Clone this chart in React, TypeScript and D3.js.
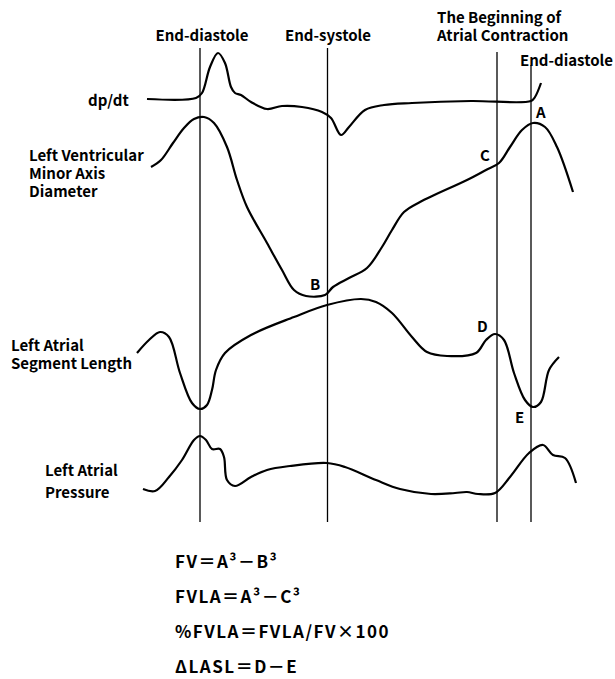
import React from "react";
import * as d3 from "d3";

// time in ms, value in arbitrary trace units (height above trace baseline)
const dpdt: [number, number][] = [
  [14, 36], [112, 37], [124, 42], [140, 68], [156, 82], [170, 72], [182, 48],
  [190, 42], [202, 40], [222, 33], [254, 26], [284, 29], [324, 28], [364, 23],
  [382, 17], [402, 0], [418, 8], [450, 25], [488, 30], [544, 32], [662, 34],
  [782, 34], [790, 38], [802, 52],
];

const lvDiameter: [number, number][] = [
  [22, 133], [42, 140], [66, 157], [88, 172], [108, 181], [128, 183], [148, 177],
  [174, 153], [194, 120], [214, 93], [254, 57], [284, 30], [308, 10], [332, 4],
  [370, 5], [386, 13], [418, 22], [454, 32], [484, 53], [504, 70], [528, 88],
  [560, 98], [654, 120], [692, 130], [718, 137], [740, 153], [764, 170],
  [786, 177], [810, 173], [834, 153], [866, 108],
];

const laSegment: [number, number][] = [
  [-6, 57], [18, 70], [40, 78], [58, 73], [80, 37], [104, 7], [120, 1], [134, 5],
  [144, 20], [152, 40], [170, 57], [222, 75], [308, 93], [374, 105], [442, 111],
  [472, 108], [504, 97], [544, 73], [574, 58], [614, 54], [672, 57], [692, 70],
  [710, 76], [728, 70], [748, 37], [770, 10], [786, 3], [802, 8], [818, 40],
  [838, 53],
];

const laPressure: [number, number][] = [
  [6, 6], [30, 4], [58, 18], [84, 35], [108, 55], [120, 59], [132, 55], [144, 46],
  [160, 46], [168, 38], [174, 15], [190, 9], [222, 18], [254, 25], [300, 29],
  [374, 32], [410, 28], [472, 15], [520, 6], [582, 1], [630, 2], [654, 3],
  [676, 1], [710, 2], [740, 18], [778, 42], [806, 50], [826, 40], [850, 37],
  [872, 12],
];

// event markers (ms)
const markerTimes = [120, 375, 714, 782];
const markerTops = [48, 48, 52, 65];

const formulas = ["FV＝A³－B³", "FVLA＝A³－C³", "%FVLA＝FVLA/FV×100", "ΔLASL＝D－E"];

const FONT = "'Noto Sans CJK JP', 'Noto Sans', sans-serif";

const App = () => {
  const svgRef = React.useRef<SVGSVGElement | null>(null);
  const width = 615;
  const height = 679;

  React.useEffect(() => {
    document.body.style.margin = "0";
    const svg = d3.select(svgRef.current);
    svg.selectAll("*").remove();

    const xScale = d3.scaleLinear().domain([-20, 880]).range([130, 580]);

    // each trace has its own baseline
    const traces = [
      { data: dpdt, base: 135 },
      { data: lvDiameter, base: 300 },
      { data: laSegment, base: 410 },
      { data: laPressure, base: 495 },
    ];

    // vertical event lines
    svg
      .append("g")
      .selectAll("line")
      .data(markerTimes)
      .join("line")
      .attr("x1", (d) => xScale(d))
      .attr("x2", (d) => xScale(d))
      .attr("y1", (d, i) => markerTops[i])
      .attr("y2", 522)
      .attr("stroke", "#000")
      .attr("stroke-width", 1.3);

    traces.forEach((t) => {
      const yScale = d3.scaleLinear().domain([0, 100]).range([t.base, t.base - 100]);
      const line = d3
        .line<[number, number]>()
        .x((d) => xScale(d[0]))
        .y((d) => yScale(d[1]))
        .curve(d3.curveCatmullRom.alpha(0.5));
      svg
        .append("path")
        .datum(t.data)
        .attr("fill", "none")
        .attr("stroke", "#000")
        .attr("stroke-width", 2.2)
        .attr("stroke-linejoin", "round")
        .attr("d", line);
    });

    const txt = (x: number, y: number, s: string, size = 15, anchor = "start", ls = 0) =>
      svg
        .append("text")
        .attr("x", x)
        .attr("y", y)
        .attr("text-anchor", anchor)
        .attr("font-family", FONT)
        .attr("font-size", size)
        .attr("font-weight", 700)
        .attr("letter-spacing", ls)
        .text(s);

    // top labels
    txt(202, 41, "End-diastole", 15, "middle");
    txt(328, 41, "End-systole", 15, "middle");
    txt(437, 23, "The Beginning of");
    txt(437, 41, "Atrial Contraction");
    txt(613, 66, "End-diastole", 15, "end");

    // trace labels
    txt(88, 106, "dp/dt");
    txt(29, 161, "Left Ventricular");
    txt(29, 179, "Minor Axis");
    txt(29, 197, "Diameter");
    txt(11, 351, "Left Atrial");
    txt(11, 369, "Segment Length");
    txt(45, 476, "Left Atrial");
    txt(45, 498, "Pressure");

    // point letters
    txt(536, 118, "A");
    txt(480, 161, "C");
    txt(310, 290, "B");
    txt(477, 332, "D");
    txt(515, 423, "E");

    formulas.forEach((f, i) => {
      txt(175, 568 + i * 35, f, 17, "start", 1.5);
    });
  }, []);

  return <svg ref={svgRef} width={width} height={height} style={{ display: "block" }} />;
};

export default App;
